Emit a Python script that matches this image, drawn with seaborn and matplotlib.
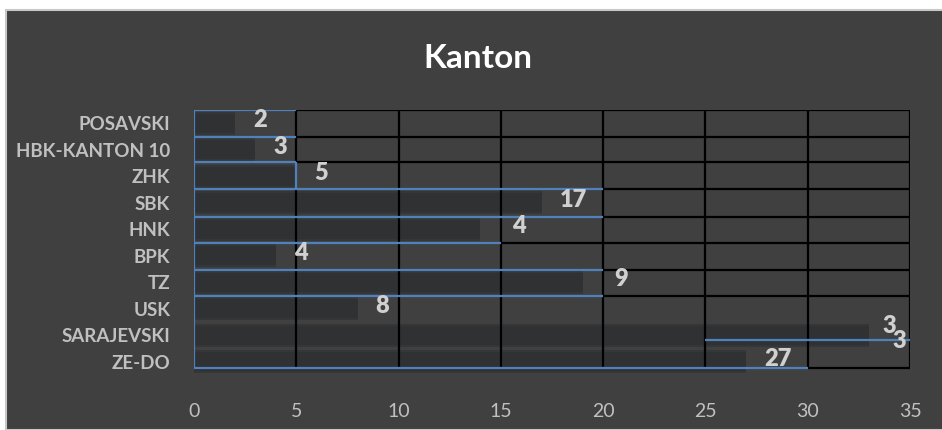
import matplotlib
matplotlib.use("Agg")
import matplotlib.pyplot as plt
from matplotlib.patches import Rectangle
import pandas as pd
import seaborn as sns

# chart data
kantoni = ["POSAVSKI", "HBK-KANTON 10", "ZHK", "SBK", "HNK", "BPK", "TZ", "USK", "SARAJEVSKI", "ZE-DO"]
broj = [2, 3, 5, 17, 14, 4, 19, 8, 33, 27]
# data labels as they show up in the screenshot (leading digit of 14 / 19 is hidden)
oznake = ["2", "3", "5", "17", "4", "4", "9", "8", "33", "27"]
x_ticks = [0, 5, 10, 15, 20, 25, 30, 35]

# table borders pasted over the chart: (row edge, x from, x to) / (x, row from, row to)
plave_h = [(-0.5, 0, 5), (0.51, 0, 5), (1.47, 0, 5), (2.49, 0, 20), (3.53, 0, 20),
           (4.53, 0, 15), (5.54, 0, 20), (6.51, 0, 20), (8.17, 25, 35), (9.25, 0, 30)]
crne_h = [(-0.5, 5, 35), (0.51, 5, 35), (1.47, 5, 35), (2.49, 20, 35), (3.53, 20, 35),
          (4.53, 15, 35), (5.54, 20, 35), (6.51, 20, 35), (9.25, 30, 35)]
plave_v = [(0, -0.5, 9.25), (5, 1.47, 2.49)]
crne_v = [(5, -0.5, 1.47), (5, 2.49, 9.25), (10, -0.5, 9.25), (15, -0.5, 9.25),
          (20, -0.5, 9.25), (25, -0.5, 9.25), (30, -0.5, 9.25), (35, -0.5, 9.25)]

BG = "#404040"
TICK = "#c0c0c0"
LBL = "#d0d0d0"
BLUE = "#4f81bd"

sns.set_style("dark", {"axes.facecolor": BG, "figure.facecolor": "white"})
plt.rcParams["font.family"] = ["Lato", "DejaVu Sans"]

df = pd.DataFrame({"kanton": kantoni, "broj": broj})

fig = plt.figure(figsize=(9.42, 4.30), dpi=100)
# dark chart area with the light strip of the screenshot on top/left
fig.patches.append(Rectangle((6 / 942, 0), 1, 1 - 10 / 430, transform=fig.transFigure,
                             facecolor=BG, edgecolor="#c8c8c8", linewidth=1.5, zorder=-10))
ax = fig.add_axes([194 / 942, 1 - 375 / 430, 716 / 942, 265 / 430])
ax.set_facecolor(BG)

# soft glow around the bars, then the bars themselves
sns.barplot(data=df, x="broj", y="kanton", orient="h", color="#353638",
            saturation=1, width=0.85, linewidth=0, ax=ax, zorder=1)
sns.barplot(data=df, x="broj", y="kanton", orient="h", color="#303133",
            saturation=1, width=0.72, linewidth=0, ax=ax, zorder=1.5)

for y, x0, x1 in plave_h:
    ax.hlines(y, x0, x1, color=BLUE, lw=1.6, zorder=3)
for y, x0, x1 in crne_h:
    ax.hlines(y, x0, x1, color="black", lw=1.6, zorder=2)
for x, y0, y1 in plave_v:
    ax.vlines(x, y0, y1, color=BLUE, lw=1.6, zorder=3)
for x, y0, y1 in crne_v:
    ax.vlines(x, y0, y1, color="black", lw=1.6, zorder=2)

cifra = 9.8  # width of one digit in points
for i, (v, lab) in enumerate(zip(broj, oznake)):
    skriveno = len(str(v)) - len(lab)
    dx = 13 + skriveno * cifra
    if kantoni[i] == "SARAJEVSKI":
        # the two digits are drawn out of line in the original
        for j, (ch, ddy) in enumerate(zip(lab, [7, -4])):
            ax.annotate(ch, (v, i), xytext=(dx - 3 + j * 6.5, ddy), textcoords="offset points",
                        ha="left", va="center", fontsize=17, fontweight="heavy",
                        color=LBL, zorder=4, annotation_clip=False, clip_on=True)
        continue
    ax.annotate(lab, (v, i), xytext=(dx, 2), textcoords="offset points",
                ha="left", va="center", fontsize=17, fontweight="heavy", color=LBL, zorder=4)

ax.set_xlim(0, 35)
ax.set_ylim(9.5, -0.5)
ax.set_xticks(x_ticks)
ax.set_xticklabels([str(t) for t in x_ticks])
ax.set_xlabel("")
ax.set_ylabel("")
ax.grid(False)
for s in ax.spines.values():
    s.set_visible(False)
ax.tick_params(axis="x", length=0, pad=20, labelsize=14, labelcolor=TICK)
ax.tick_params(axis="y", length=0, pad=17, labelsize=13.5, labelcolor=TICK)
for t in ax.get_yticklabels():
    t.set_fontweight("bold")

fig.text(478 / 942, 1 - 59 / 430, "Kanton", ha="center", va="center",
         fontsize=24, fontweight="bold", color="white")

fig.savefig("out.png", dpi=100)
